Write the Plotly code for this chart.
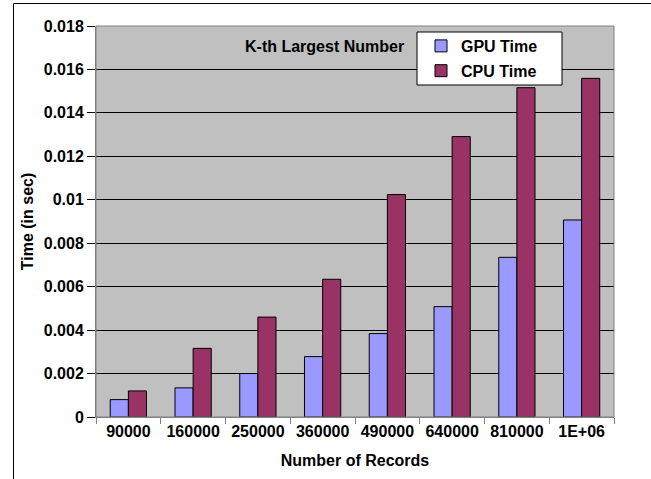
import plotly.graph_objects as go

# Data
records = ["90000", "160000", "250000", "360000", "490000", "640000", "810000", "1E+06"]
gpu_time = [0.0008, 0.00134, 0.0020, 0.00278, 0.00384, 0.00508, 0.00735, 0.00907]
cpu_time = [0.0012, 0.00316, 0.0046, 0.00634, 0.01024, 0.01291, 0.01516, 0.01559]
y_tick_vals = [0, 0.002, 0.004, 0.006, 0.008, 0.01, 0.012, 0.014, 0.016, 0.018]
y_tick_text = ["0", "0.002", "0.004", "0.006", "0.008", "0.01", "0.012", "0.014", "0.016", "0.018"]

FONT = "Liberation Sans, Arial, sans-serif"

# Pixel layout of the plot area
W, H = 651, 479
L, R, T, B = 96, 37, 26, 62
pw, ph = W - L - R, H - T - B


def px_x(x):
    return (x - L) / pw


def px_y(y):
    return (H - B - y) / ph


fig = go.Figure()
fig.add_trace(go.Bar(
    x=records, y=gpu_time, name="GPU Time", legendgroup="gpu",
    marker=dict(color="#9999FF", line=dict(color="black", width=1)),
))
fig.add_trace(go.Bar(
    x=records, y=cpu_time, name="CPU Time", legendgroup="cpu",
    marker=dict(color="#993366", line=dict(color="black", width=1)),
))

fig.update_layout(
    width=W, height=H,
    margin=dict(l=L, r=R, t=T, b=B, pad=0),
    paper_bgcolor="white",
    plot_bgcolor="#C0C0C0",
    barmode="group",
    bargap=0.44,
    bargroupgap=0,
    font=dict(family=FONT, size=16, color="black"),
    showlegend=True,
    legend=dict(
        x=px_x(421), y=px_y(29), xanchor="left", yanchor="top",
        bgcolor="rgba(0,0,0,0)", borderwidth=0,
        font=dict(family=FONT, size=16, color="black", weight="bold"),
        tracegroupgap=1, itemwidth=30,
    ),
    xaxis=dict(
        type="category",
        tickson="boundaries",
        ticks="outside", ticklen=6, tickcolor="#808080",
        showline=True, linecolor="#808080", linewidth=1,
        showgrid=False,
        tickfont=dict(family=FONT, size=16, weight="bold"),
        title=dict(text="Number of Records", standoff=15,
                   font=dict(family=FONT, size=16, weight="bold")),
    ),
    yaxis=dict(
        range=[0, 0.018],
        tickvals=y_tick_vals, ticktext=y_tick_text,
        ticks="outside", ticklen=8, tickcolor="black",
        showline=True, linecolor="#808080", linewidth=1,
        showgrid=True, gridcolor="black", gridwidth=1,
        zeroline=False,
        tickfont=dict(family=FONT, size=16, weight="bold"),
        title=dict(text="Time (in sec)", standoff=6,
                   font=dict(family=FONT, size=16, weight="bold")),
    ),
)

# Chart title inside the plot area
fig.add_annotation(
    text="K-th Largest Number", xref="paper", yref="paper",
    x=px_x(324), y=px_y(46), xanchor="center", yanchor="middle",
    showarrow=False,
    font=dict(family=FONT, size=16, weight="bold"),
)

# Plot area border
fig.add_shape(
    type="rect", xref="paper", yref="paper",
    x0=0, x1=1, y0=0, y1=1,
    line=dict(color="#808080", width=1), layer="above",
)

# Legend box
fig.add_shape(
    type="rect", xref="paper", yref="paper",
    x0=px_x(417), x1=px_x(562), y0=px_y(85), y1=px_y(32),
    fillcolor="white", line=dict(color="black", width=1), layer="above",
)

# Outer chart frame (left and top edges)
fig.add_shape(
    type="line", xref="paper", yref="paper",
    x0=px_x(13.5), x1=px_x(13.5), y0=px_y(3.5), y1=px_y(479),
    line=dict(color="black", width=1),
)
fig.add_shape(
    type="line", xref="paper", yref="paper",
    x0=px_x(13.5), x1=px_x(651), y0=px_y(3.5), y1=px_y(3.5),
    line=dict(color="black", width=1),
)

fig.write_html("out.html")
